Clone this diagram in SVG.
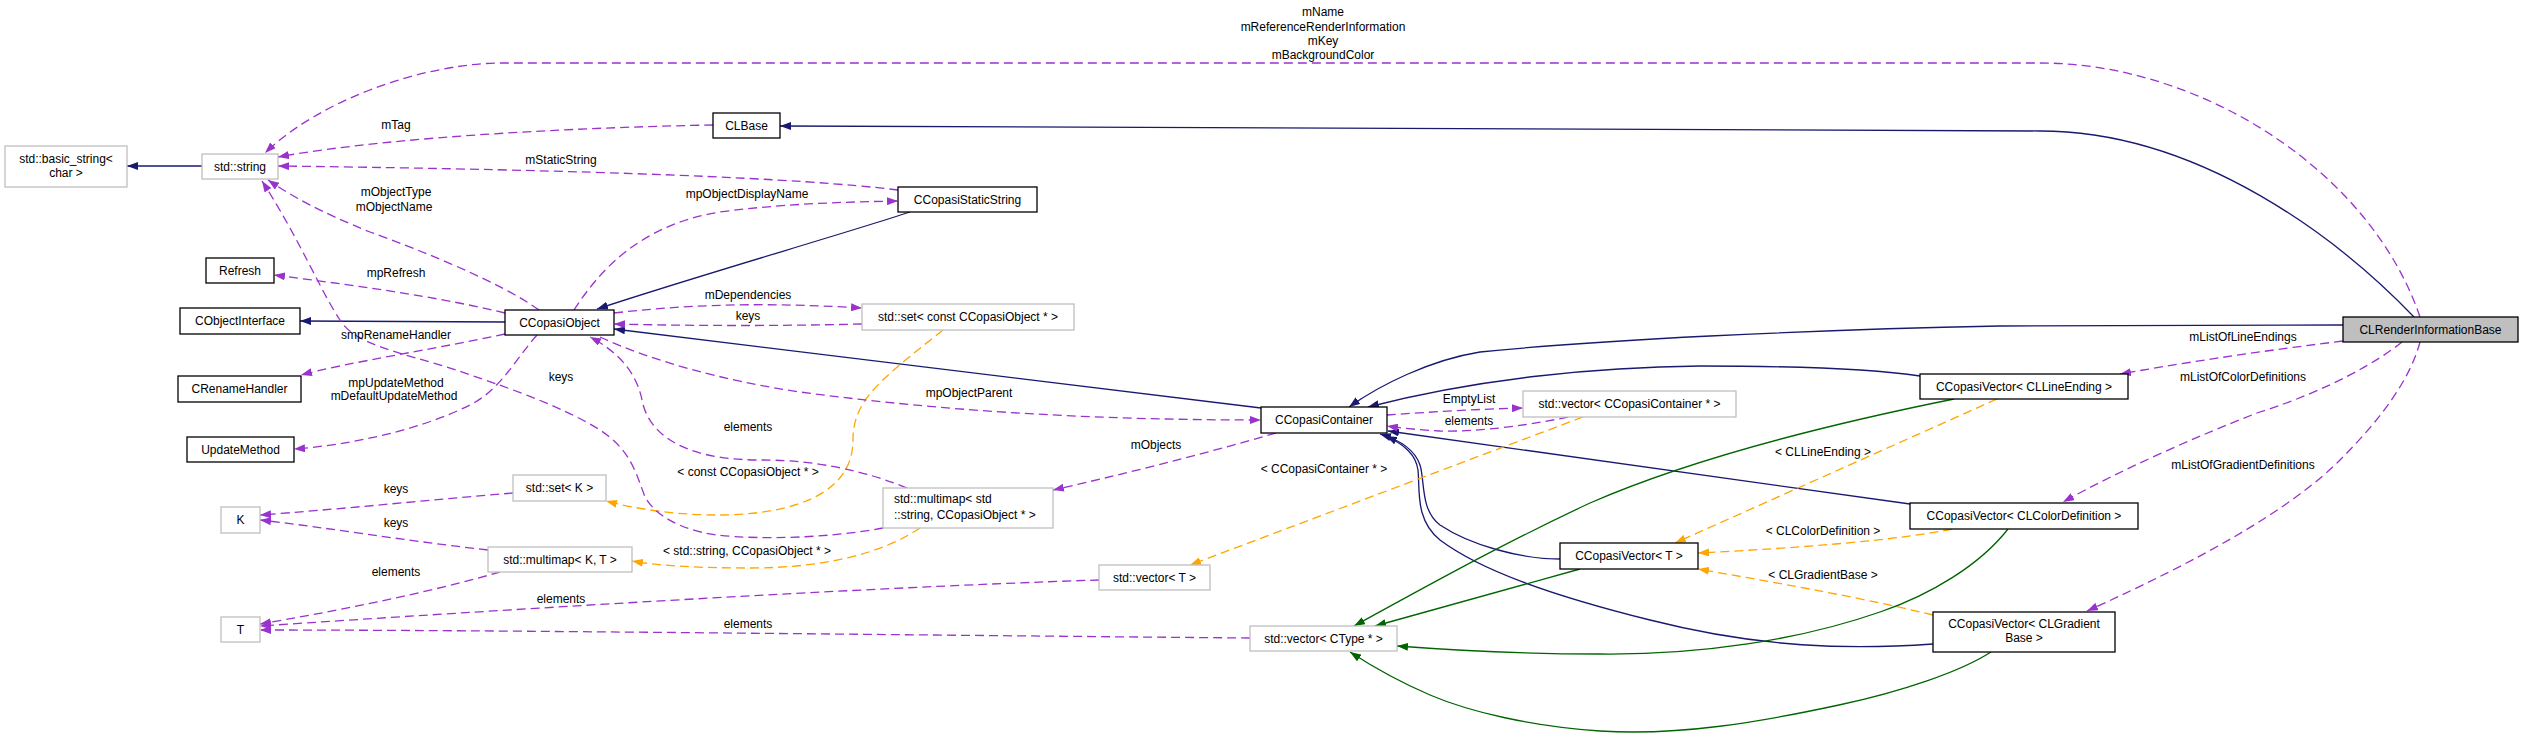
<svg xmlns="http://www.w3.org/2000/svg" width="2523" height="739" viewBox="0 0 2523 739">
<style>
text{font-family:"Liberation Sans",Arial,sans-serif;font-size:12px;fill:#000}
.nl{text-anchor:middle}
.el{text-anchor:middle}
.doc{fill:#fff;stroke:#000;stroke-width:1.3}
.und{fill:#fff;stroke:#bfbfbf;stroke-width:1.3}
.cur{fill:#bfbfbf;stroke:#000;stroke-width:1.3}
.inh{fill:none;stroke:#191970;stroke-width:1.3;marker-end:url(#aBlue)}
.use{fill:none;stroke:#9a32cd;stroke-width:1.3;stroke-dasharray:9,5;marker-end:url(#aPurple)}
.tpl{fill:none;stroke:#ffa500;stroke-width:1.3;stroke-dasharray:9,5;marker-end:url(#aOrange)}
.grn{fill:none;stroke:#006400;stroke-width:1.3;marker-end:url(#aGreen)}
</style>
<defs>
<marker id="aBlue" markerWidth="11" markerHeight="8" refX="11" refY="4" orient="auto" markerUnits="userSpaceOnUse"><path d="M0,0 L11,4 L0,8 z" fill="#191970"/></marker>
<marker id="aPurple" markerWidth="11" markerHeight="8" refX="11" refY="4" orient="auto" markerUnits="userSpaceOnUse"><path d="M0,0 L11,4 L0,8 z" fill="#9a32cd"/></marker>
<marker id="aOrange" markerWidth="11" markerHeight="8" refX="11" refY="4" orient="auto" markerUnits="userSpaceOnUse"><path d="M0,0 L11,4 L0,8 z" fill="#ffa500"/></marker>
<marker id="aGreen" markerWidth="11" markerHeight="8" refX="11" refY="4" orient="auto" markerUnits="userSpaceOnUse"><path d="M0,0 L11,4 L0,8 z" fill="#006400"/></marker>
</defs>
<rect x="0" y="0" width="2523" height="739" fill="#fff"/>

<g id="connectors">
<!-- inheritance -->
<path class="inh" d="M202,166 L127,166"/>
<path class="inh" d="M2414,317 C2340,240 2200,131 2040,131 L780,126"/>
<path class="inh" d="M2343,325 L2000,326 C1800,330 1600,340 1480,352 C1430,360 1380,385 1349,407"/>
<path class="inh" d="M1920,376 C1880,370 1800,366 1700,366 C1600,367 1480,378 1368,407"/>
<path class="inh" d="M1910,504 L1388,431"/>
<path class="inh" d="M1560,559 C1520,559 1470,545 1440,525 C1420,510 1425,480 1420,465 C1415,450 1400,440 1380,434"/>
<path class="inh" d="M1933,644 C1850,650 1760,648 1650,620 C1550,595 1480,570 1440,540 C1415,520 1420,490 1418,470 C1416,455 1405,445 1386,436"/>
<path class="inh" d="M1261,408 L614,329"/>
<path class="inh" d="M910,212 C840,235 700,275 597,309"/>
<path class="inh" d="M505,322 L300,321"/>
<!-- template instances -->
<path class="tpl" d="M943,330 C880,380 853,400 853,440 C853,500 780,515 717,515 C680,515 640,510 606,501"/>
<path class="tpl" d="M920,528 C880,555 820,568 750,568 C700,568 660,566 632,561"/>
<path class="tpl" d="M1583,417 L1190,565"/>
<path class="tpl" d="M1997,399 L1675,543"/>
<path class="tpl" d="M1952,529 C1900,540 1800,548 1698,553"/>
<path class="tpl" d="M1933,615 C1850,595 1760,580 1698,569"/>
<!-- green -->
<path class="grn" d="M1954,399 C1850,420 1700,455 1590,503 C1500,545 1420,590 1354,626"/>
<path class="grn" d="M1580,569 L1375,626"/>
<path class="grn" d="M2008,529 C1980,565 1930,595 1880,612 C1800,640 1700,655 1600,654 C1520,654 1450,650 1397,646"/>
<path class="grn" d="M1991,652 C1960,672 1900,692 1839,705 C1760,722 1680,736 1600,731 C1530,726 1470,712 1430,695 C1395,680 1370,665 1350,652"/>
<!-- usage -->
<path class="use" d="M2420,317 C2370,170 2200,63 2040,63 L497,63 C420,65 320,100 265,153"/>
<path class="use" d="M713,125 C600,127 400,135 278,157"/>
<path class="use" d="M898,190 C800,178 600,170 278,166"/>
<path class="use" d="M574,310 C600,270 640,225 720,212 C780,204 840,202 898,201"/>
<path class="use" d="M539,310 C500,282 420,250 370,232 C320,212 290,195 268,180"/>
<path class="use" d="M505,313 C430,295 350,285 274,275"/>
<path class="use" d="M505,334 C430,350 350,362 301,375"/>
<path class="use" d="M537,335 C515,360 500,390 470,405 C420,430 350,445 294,449"/>
<path class="use" d="M883,528 C830,538 760,540 717,535 C680,530 655,515 645,497 C635,470 630,450 600,430 C560,405 500,385 456,370 C400,352 355,345 340,320 C320,290 300,240 262,181"/>
<path class="use" d="M907,488 C850,465 800,460 760,460 C680,460 648,432 642,400 C636,370 615,350 590,337"/>
<path class="use" d="M600,337 C650,360 720,380 800,392 C950,412 1100,420 1261,420"/>
<path class="use" d="M614,313 C700,303 780,303 862,308"/>
<path class="use" d="M862,324 C780,326 700,326 614,324"/>
<path class="use" d="M1276,433 C1200,455 1120,475 1053,490"/>
<path class="use" d="M1387,415 C1430,412 1480,409 1523,408"/>
<path class="use" d="M1568,417 C1530,425 1480,432 1440,431 C1420,430 1400,428 1387,426"/>
<path class="use" d="M513,493 C430,500 330,510 260,515"/>
<path class="use" d="M488,550 C400,540 330,528 260,520"/>
<path class="use" d="M500,572 C420,595 330,612 260,624"/>
<path class="use" d="M1099,580 C850,588 500,610 260,626"/>
<path class="use" d="M1250,638 C900,635 500,630 260,630"/>
<path class="use" d="M2343,341 C2270,350 2200,360 2120,374"/>
<path class="use" d="M2402,342 C2380,360 2330,390 2257,413 C2200,435 2120,470 2063,502"/>
<path class="use" d="M2420,342 C2410,380 2380,420 2340,460 C2290,510 2200,560 2087,611"/>
<!-- edge labels -->
<text class="el" x="1323" y="16">mName</text>
<text class="el" x="1323" y="31">mReferenceRenderInformation</text>
<text class="el" x="1323" y="45">mKey</text>
<text class="el" x="1323" y="59">mBackgroundColor</text>
<text class="el" x="396" y="129">mTag</text>
<text class="el" x="561" y="164">mStaticString</text>
<text class="el" x="396" y="196">mObjectType</text>
<text class="el" x="394" y="211">mObjectName</text>
<text class="el" x="747" y="198">mpObjectDisplayName</text>
<text class="el" x="396" y="277">mpRefresh</text>
<text class="el" x="748" y="299">mDependencies</text>
<text class="el" x="748" y="320">keys</text>
<text class="el" x="396" y="339">smpRenameHandler</text>
<text class="el" x="561" y="381">keys</text>
<text class="el" x="396" y="387">mpUpdateMethod</text>
<text class="el" x="394" y="400">mDefaultUpdateMethod</text>
<text class="el" x="969" y="397">mpObjectParent</text>
<text class="el" x="1469" y="403">EmptyList</text>
<text class="el" x="1469" y="425">elements</text>
<text class="el" x="748" y="431">elements</text>
<text class="el" x="1156" y="449">mObjects</text>
<text class="el" x="1823" y="456">&lt; CLLineEnding &gt;</text>
<text class="el" x="1324" y="473">&lt; CCopasiContainer * &gt;</text>
<text class="el" x="748" y="476">&lt; const CCopasiObject * &gt;</text>
<text class="el" x="396" y="493">keys</text>
<text class="el" x="396" y="527">keys</text>
<text class="el" x="1823" y="535">&lt; CLColorDefinition &gt;</text>
<text class="el" x="747" y="555">&lt; std::string, CCopasiObject * &gt;</text>
<text class="el" x="396" y="576">elements</text>
<text class="el" x="1823" y="579">&lt; CLGradientBase &gt;</text>
<text class="el" x="561" y="603">elements</text>
<text class="el" x="748" y="628">elements</text>
<text class="el" x="2243" y="341">mListOfLineEndings</text>
<text class="el" x="2243" y="381">mListOfColorDefinitions</text>
<text class="el" x="2243" y="469">mListOfGradientDefinitions</text>
</g>

<g id="n_basic_string"><rect class="und" x="5" y="146" width="122" height="41"/><text class="nl" x="66" y="163">std::basic_string&lt;</text><text class="nl" x="66" y="177">char &gt;</text></g>
<g id="n_string"><rect class="und" x="202" y="154" width="76" height="25"/><text class="nl" x="240" y="171">std::string</text></g>
<g id="n_Refresh"><rect class="doc" x="206" y="258" width="68" height="25"/><text class="nl" x="240" y="275">Refresh</text></g>
<g id="n_CObjectInterface"><rect class="doc" x="180" y="308" width="120" height="26"/><text class="nl" x="240" y="325">CObjectInterface</text></g>
<g id="n_CCopasiObject"><rect class="doc" x="505" y="310" width="109" height="25"/><text class="nl" x="559.5" y="327">CCopasiObject</text></g>
<g id="n_CRenameHandler"><rect class="doc" x="178" y="376" width="123" height="26"/><text class="nl" x="239.5" y="393">CRenameHandler</text></g>
<g id="n_UpdateMethod"><rect class="doc" x="187" y="437" width="107" height="25"/><text class="nl" x="240.5" y="454">UpdateMethod</text></g>
<g id="n_setK"><rect class="und" x="513" y="475" width="93" height="26"/><text class="nl" x="559.5" y="492">std::set&lt; K &gt;</text></g>
<g id="n_K"><rect class="und" x="221" y="507" width="39" height="26"/><text class="nl" x="240.5" y="524">K</text></g>
<g id="n_multimapKT"><rect class="und" x="488" y="547" width="144" height="25"/><text class="nl" x="560" y="564">std::multimap&lt; K, T &gt;</text></g>
<g id="n_T"><rect class="und" x="221" y="617" width="39" height="25"/><text class="nl" x="240.5" y="634">T</text></g>
<g id="n_CLBase"><rect class="doc" x="713" y="113" width="67" height="25"/><text class="nl" x="746.5" y="130">CLBase</text></g>
<g id="n_CCopasiStaticString"><rect class="doc" x="898" y="187" width="139" height="25"/><text class="nl" x="967.5" y="204">CCopasiStaticString</text></g>
<g id="n_setConst"><rect class="und" x="862" y="304" width="212" height="26"/><text class="nl" x="968" y="321">std::set&lt; const CCopasiObject * &gt;</text></g>
<g id="n_multimapStr"><rect class="und" x="883" y="488" width="170" height="40"/><text x="894" y="503">std::multimap&lt; std</text><text x="894" y="519">::string, CCopasiObject * &gt;</text></g>
<g id="n_vectorT"><rect class="und" x="1099" y="565" width="111" height="25"/><text class="nl" x="1154.5" y="582">std::vector&lt; T &gt;</text></g>
<g id="n_CCopasiContainer"><rect class="doc" x="1261" y="407" width="126" height="26"/><text class="nl" x="1324" y="424">CCopasiContainer</text></g>
<g id="n_vectorCType"><rect class="und" x="1250" y="626" width="147" height="25"/><text class="nl" x="1323.5" y="643">std::vector&lt; CType * &gt;</text></g>
<g id="n_vectorCC"><rect class="und" x="1523" y="391" width="213" height="26"/><text class="nl" x="1629.5" y="408">std::vector&lt; CCopasiContainer * &gt;</text></g>
<g id="n_CCopasiVectorT"><rect class="doc" x="1560" y="543" width="138" height="26"/><text class="nl" x="1629" y="560">CCopasiVector&lt; T &gt;</text></g>
<g id="n_CVLineEnding"><rect class="doc" x="1920" y="374" width="208" height="25"/><text class="nl" x="2024" y="391">CCopasiVector&lt; CLLineEnding &gt;</text></g>
<g id="n_CVColorDef"><rect class="doc" x="1910" y="503" width="228" height="26"/><text class="nl" x="2024" y="520">CCopasiVector&lt; CLColorDefinition &gt;</text></g>
<g id="n_CVGradient"><rect class="doc" x="1933" y="612" width="182" height="40"/><text class="nl" x="2024" y="628">CCopasiVector&lt; CLGradient</text><text class="nl" x="2024" y="642">Base &gt;</text></g>
<g id="n_CLRenderInformationBase"><rect class="cur" x="2343" y="317" width="175" height="25"/><text class="nl" x="2430.5" y="334">CLRenderInformationBase</text></g>
</svg>
